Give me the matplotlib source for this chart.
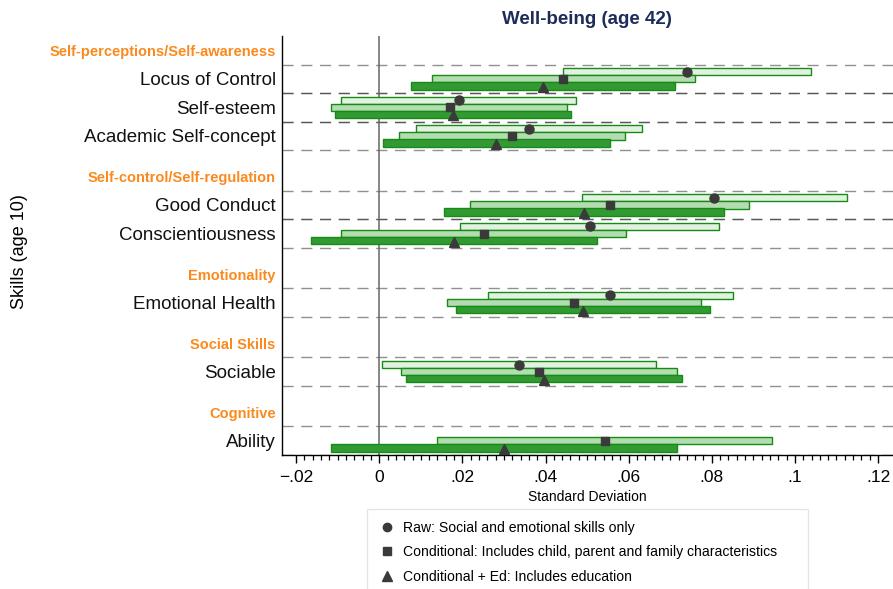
import numpy as np
import matplotlib
matplotlib.use('Agg')
import matplotlib.pyplot as plt
from matplotlib.lines import Line2D
from matplotlib.ticker import FixedLocator

plt.rcParams['font.family'] = ['Liberation Sans', 'DejaVu Sans']

# data (effect on well-being, in SD)
groups = ['Self-perceptions/Self-awareness', 'Self-control/Self-regulation',
          'Emotionality', 'Social Skills', 'Cognitive']
group_sizes = [3, 2, 1, 1, 1]
skills = ['Locus of Control', 'Self-esteem', 'Academic Self-concept',
          'Good Conduct', 'Conscientiousness', 'Emotional Health',
          'Sociable', 'Ability']

raw_est = [0.0740, 0.0192, 0.0361, 0.0805, 0.0506, 0.0555, 0.0337, np.nan]
raw_lo = [0.0442, -0.0091, 0.0089, 0.0487, 0.0195, 0.0261, 0.0007, np.nan]
raw_hi = [0.1038, 0.0474, 0.0632, 0.1126, 0.0817, 0.0850, 0.0665, np.nan]

cond_est = [0.0443, 0.0169, 0.0319, 0.0554, 0.0251, 0.0468, 0.0384, 0.0542]
cond_lo = [0.0127, -0.0116, 0.0047, 0.0219, -0.0092, 0.0162, 0.0053, 0.0138]
cond_hi = [0.0759, 0.0452, 0.0592, 0.0889, 0.0593, 0.0773, 0.0716, 0.0945]

ed_est = [0.0394, 0.0178, 0.0282, 0.0493, 0.0179, 0.0490, 0.0396, 0.0301]
ed_lo = [0.0076, -0.0106, 0.0010, 0.0156, -0.0165, 0.0184, 0.0065, -0.0115]
ed_hi = [0.0711, 0.0462, 0.0556, 0.0829, 0.0523, 0.0796, 0.0728, 0.0717]

xticks = [-0.02, 0, 0.02, 0.04, 0.06, 0.08, 0.1, 0.12]
xtick_labels = ['\u2212.02', '0', '.02', '.04', '.06', '.08', '.1', '.12']

legend_labels = ['Raw: Social and emotional skills only',
                 'Conditional: Includes child, parent and family characteristics',
                 'Conditional + Ed: Includes education']

ORANGE = '#fb8a1e'
NAVY = '#1e2c5a'
MARK = '#3a3a3a'
EDGE = '#168c16'

# row layout
row_tops = []
header_y = []
y = -0.42
for g, n in zip(groups, group_sizes):
    top = y + 1.42
    header_y.append(top - 0.5)
    for i in range(n):
        row_tops.append(top + i)
    y = top + n
row_tops = np.array(row_tops)
centers = row_tops + 0.5

fig = plt.figure(figsize=(8.93, 5.89), dpi=100)
ax = fig.add_axes([282 / 893, 1 - 455 / 589, 611 / 893, 419 / 589])

# dashed row borders (drawn per row, so shared borders come out darker)
for t in row_tops:
    for yy in (t, t + 1):
        ax.axhline(yy, color='#222222', alpha=0.5, lw=1.0, dashes=(8, 5.5), zorder=1)

ax.axvline(0, color='#666666', lw=1.1, zorder=1)

h = 0.255
off = 0.25
raw_lo_a, raw_hi_a = np.array(raw_lo), np.array(raw_hi)
cond_lo_a, cond_hi_a = np.array(cond_lo), np.array(cond_hi)
ed_lo_a, ed_hi_a = np.array(ed_lo), np.array(ed_hi)

ax.barh(centers - off, raw_hi_a - raw_lo_a, left=raw_lo_a, height=h,
        color='#e3f1e1', edgecolor=EDGE, linewidth=1.0, zorder=2)
ax.barh(centers, cond_hi_a - cond_lo_a, left=cond_lo_a, height=h,
        color='#b3dcb0', edgecolor=EDGE, linewidth=1.0, zorder=2)
ax.barh(centers + off, ed_hi_a - ed_lo_a, left=ed_lo_a, height=h,
        color='#339a33', edgecolor=EDGE, linewidth=1.0, zorder=2)

ax.plot(raw_est, centers - off, 'o', color=MARK, ms=6.5, ls='none', zorder=4)
ax.plot(cond_est, centers, 's', color=MARK, ms=6, ls='none', zorder=4)
ax.plot(ed_est, centers + off + 0.03, '^', color=MARK, ms=7, ls='none', zorder=4)

ax.set_xlim(-0.0234, 0.1236)
ax.set_ylim(14.68, 0)

ax.spines['top'].set_visible(False)
ax.spines['right'].set_visible(False)
ax.spines['left'].set_linewidth(1.0)
ax.spines['bottom'].set_linewidth(1.0)

ax.set_xticks(xticks)
ax.set_xticklabels(xtick_labels, fontsize=12.5)
ax.xaxis.set_minor_locator(FixedLocator(np.arange(-0.02, 0.1201, 0.002)))
ax.tick_params(axis='x', which='major', length=6, width=1, pad=4.5)
ax.tick_params(axis='x', which='minor', length=3.5, width=0.9)

yt = list(header_y) + list(centers)
yl = list(groups) + list(skills)
ax.set_yticks(yt)
ax.set_yticklabels(yl)
ax.tick_params(axis='y', length=0, pad=4.5)
for lab in ax.get_yticklabels()[:len(groups)]:
    lab.set_color(ORANGE)
    lab.set_fontweight('bold')
    lab.set_fontsize(10.5)
for lab in ax.get_yticklabels()[len(groups):]:
    lab.set_fontsize(13.5)
    lab.set_color('#111111')

ax.set_xlabel('Standard Deviation', fontsize=10, labelpad=4)
fig.text(20 / 893, 1 - 252 / 589, 'Skills (age 10)', rotation=90, fontsize=13,
         ha='center', va='center')
fig.text(587 / 893, 1 - 20 / 589, 'Well-being (age 42)', fontsize=13.5,
         fontweight='bold', color=NAVY, ha='center', va='center')

handles = [Line2D([], [], marker='o', color=MARK, ls='none', ms=6),
           Line2D([], [], marker='s', color=MARK, ls='none', ms=5.5),
           Line2D([], [], marker='^', color=MARK, ls='none', ms=6.5)]
leg = fig.legend(handles, legend_labels, loc='upper left',
                 bbox_to_anchor=(367 / 893, 1 - 509 / 589 - 0.01, 441 / 893, 0.01),
                 mode='expand', borderaxespad=0, fontsize=10.1, frameon=True,
                 fancybox=False, borderpad=0.85, handlelength=1.1,
                 handletextpad=0.6, labelspacing=0.74)
leg.get_frame().set_edgecolor('#d8e2ea')
leg.get_frame().set_linewidth(1.0)

fig.savefig('out.png', dpi=100)
